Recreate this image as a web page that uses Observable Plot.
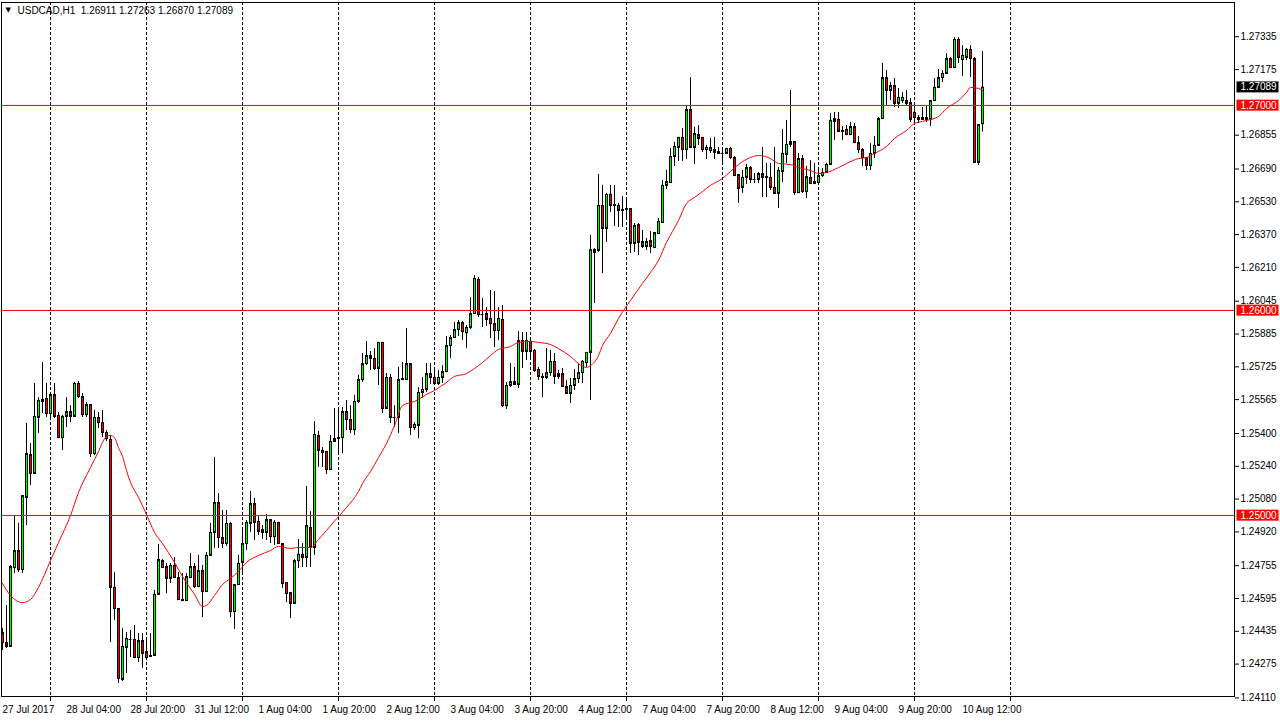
<!DOCTYPE html>
<html>
<head>
<meta charset="utf-8">
<script src="https://cdn.jsdelivr.net/npm/d3@7"></script>
<script src="https://cdn.jsdelivr.net/npm/@observablehq/plot@0.6"></script>
<style>
html,body{margin:0;padding:0;background:#fff;}
#chart{width:1280px;height:721px;overflow:hidden;}
</style>
</head>
<body>
<div id="chart"></div>
<script>
const symbol = "USDCAD,H1";

// hourly bars, index 0 = 27 Jul 12:00
const open = [
1.24429,1.24380,1.24361,1.24746,1.24829,1.24736,1.25088,1.25297,1.25205,1.25478,
1.25556,1.25571,1.25497,1.25590,1.25488,1.25380,1.25483,1.25507,1.25483,1.25644,
1.25580,1.25492,1.25541,1.25302,1.25478,1.25453,1.25405,1.25371,1.24649,1.24546,
1.24200,1.24356,1.24395,1.24395,1.24307,1.24390,1.24336,1.24317,1.24317,1.24615,
1.24780,1.24751,1.24693,1.24756,1.24697,1.24590,1.24585,1.24697,1.24751,1.24653,
1.24731,1.24629,1.24805,1.24917,1.25063,1.24892,1.24863,1.24961,1.24531,1.24663,
1.24771,1.24863,1.24961,1.25058,1.24971,1.24931,1.24917,1.24980,1.24897,1.24966,
1.24863,1.24673,1.24624,1.24571,1.24780,1.24810,1.24795,1.24941,1.24844,1.25390,
1.25317,1.25312,1.25224,1.25361,1.25375,1.25380,1.25507,1.25468,1.25419,1.25556,
1.25663,1.25741,1.25780,1.25766,1.25717,1.25844,1.25522,1.25673,1.25478,1.25478,
1.25663,1.25663,1.25741,1.25429,1.25439,1.25600,1.25615,1.25692,1.25673,1.25644,
1.25673,1.25702,1.25829,1.25868,1.25907,1.25941,1.25892,1.25917,1.25985,1.26151,
1.25980,1.25985,1.25961,1.25936,1.25902,1.25956,1.25536,1.25634,1.25653,1.25639,
1.25853,1.25800,1.25849,1.25805,1.25712,1.25678,1.25673,1.25697,1.25751,1.25678,
1.25692,1.25629,1.25595,1.25634,1.25668,1.25697,1.25746,1.25795,1.26297,1.26293,
1.26512,1.26400,1.26566,1.26517,1.26512,1.26488,1.26493,1.26497,1.26327,1.26419,
1.26336,1.26312,1.26341,1.26307,1.26375,1.26429,1.26610,1.26624,1.26751,1.26795,
1.26844,1.26785,1.26980,1.26795,1.26858,1.26844,1.26785,1.26795,1.26785,1.26775,
1.26766,1.26766,1.26790,1.26746,1.26663,1.26600,1.26649,1.26697,1.26639,1.26639,
1.26668,1.26653,1.26649,1.26600,1.26571,1.26678,1.26761,1.26810,1.26824,1.26575,
1.26741,1.26580,1.26649,1.26619,1.26624,1.26658,1.26673,1.26712,1.26922,1.26932,
1.26878,1.26883,1.26858,1.26897,1.26819,1.26785,1.26746,1.26707,1.26766,1.26805,
1.26936,1.27136,1.27073,1.27097,1.27010,1.27024,1.27024,1.27014,1.26966,1.26932,
1.26941,1.26932,1.26932,1.27024,1.27088,1.27136,1.27156,1.27229,1.27185,1.27322,
1.27224,1.27234,1.27273,1.27229,1.26722,1.26911
];
const high = [
1.24449,1.24561,1.24756,1.24995,1.24961,1.25097,1.25449,1.25351,1.25644,1.25575,
1.25746,1.25644,1.25600,1.25644,1.25502,1.25488,1.25575,1.25536,1.25649,1.25653,
1.25595,1.25551,1.25541,1.25512,1.25502,1.25512,1.25414,1.25390,1.24722,1.24546,
1.24449,1.24429,1.24439,1.24463,1.24424,1.24424,1.24390,1.24424,1.24634,1.24858,
1.24785,1.24766,1.24766,1.24795,1.24722,1.24717,1.24717,1.24815,1.24766,1.24805,
1.24756,1.24819,1.24961,1.25283,1.25107,1.25024,1.25024,1.24966,1.24663,1.24805,
1.24927,1.24975,1.25117,1.25083,1.25000,1.24951,1.25005,1.24980,1.24975,1.24966,
1.24863,1.24673,1.24624,1.24785,1.24883,1.24863,1.25141,1.25019,1.25458,1.25410,
1.25331,1.25312,1.25390,1.25522,1.25517,1.25527,1.25561,1.25536,1.25585,1.25683,
1.25790,1.25849,1.25800,1.25814,1.25844,1.25844,1.25692,1.25688,1.25536,1.25722,
1.25746,1.25912,1.25741,1.25453,1.25624,1.25673,1.25741,1.25741,1.25707,1.25707,
1.25731,1.25873,1.25878,1.25941,1.25951,1.25946,1.25927,1.26063,1.26170,1.26161,
1.26058,1.26014,1.26097,1.26092,1.26014,1.26024,1.25649,1.25741,1.25722,1.25897,
1.25892,1.25892,1.25858,1.25810,1.25722,1.25692,1.25814,1.25805,1.25790,1.25707,
1.25717,1.25658,1.25668,1.25712,1.25741,1.25756,1.25795,1.26366,1.26302,1.26663,
1.26610,1.26571,1.26610,1.26610,1.26522,1.26556,1.26546,1.26497,1.26424,1.26424,
1.26390,1.26351,1.26385,1.26380,1.26449,1.26634,1.26683,1.26790,1.26819,1.26844,
1.26888,1.27000,1.27136,1.26893,1.26902,1.26844,1.26805,1.26839,1.26844,1.26795,
1.26790,1.26790,1.26795,1.26751,1.26663,1.26683,1.26712,1.26702,1.26668,1.26673,
1.26795,1.26717,1.26717,1.26795,1.26697,1.26883,1.26927,1.27073,1.26824,1.26766,
1.26756,1.26702,1.26731,1.26717,1.26683,1.26692,1.26717,1.26961,1.26966,1.26966,
1.26897,1.26902,1.26917,1.26912,1.26849,1.26790,1.26746,1.26814,1.26849,1.26941,
1.27205,1.27170,1.27112,1.27131,1.27083,1.27063,1.27073,1.27034,1.26995,1.26951,
1.26990,1.26995,1.27024,1.27131,1.27175,1.27170,1.27253,1.27234,1.27331,1.27331,
1.27292,1.27278,1.27292,1.27234,1.26907,1.27263
];
const low = [
1.24341,1.24351,1.24361,1.24717,1.24722,1.24717,1.24951,1.25146,1.25205,1.25400,
1.25497,1.25478,1.25478,1.25473,1.25375,1.25317,1.25429,1.25453,1.25483,1.25571,
1.25478,1.25478,1.25283,1.25292,1.25424,1.25380,1.25361,1.24380,1.24488,1.24180,
1.24190,1.24229,1.24307,1.24307,1.24283,1.24254,1.24307,1.24307,1.24312,1.24610,
1.24741,1.24619,1.24668,1.24693,1.24590,1.24580,1.24580,1.24697,1.24644,1.24649,
1.24502,1.24624,1.24800,1.24839,1.24839,1.24839,1.24849,1.24502,1.24444,1.24663,
1.24722,1.24829,1.24917,1.24878,1.24902,1.24883,1.24878,1.24863,1.24853,1.24863,
1.24644,1.24575,1.24497,1.24571,1.24741,1.24746,1.24746,1.24746,1.24805,1.25234,
1.25234,1.25200,1.25224,1.25356,1.25307,1.25302,1.25414,1.25400,1.25390,1.25546,
1.25649,1.25731,1.25707,1.25707,1.25634,1.25497,1.25517,1.25449,1.25429,1.25400,
1.25658,1.25658,1.25390,1.25414,1.25375,1.25571,1.25600,1.25639,1.25634,1.25634,
1.25644,1.25697,1.25766,1.25863,1.25873,1.25853,1.25814,1.25907,1.25980,1.25966,
1.25917,1.25922,1.25863,1.25819,1.25853,1.25527,1.25517,1.25624,1.25634,1.25619,
1.25717,1.25756,1.25771,1.25697,1.25658,1.25575,1.25663,1.25678,1.25639,1.25663,
1.25624,1.25595,1.25546,1.25610,1.25644,1.25644,1.25722,1.25561,1.26034,1.26283,
1.26180,1.26332,1.26478,1.26410,1.26405,1.26405,1.26439,1.26278,1.26283,1.26268,
1.26302,1.26293,1.26278,1.26302,1.26375,1.26424,1.26590,1.26624,1.26702,1.26727,
1.26727,1.26736,1.26795,1.26712,1.26805,1.26771,1.26736,1.26766,1.26736,1.26766,
1.26722,1.26766,1.26736,1.26658,1.26522,1.26571,1.26614,1.26619,1.26619,1.26619,
1.26551,1.26551,1.26585,1.26566,1.26497,1.26624,1.26717,1.26795,1.26561,1.26571,
1.26571,1.26546,1.26619,1.26619,1.26619,1.26649,1.26668,1.26707,1.26829,1.26868,
1.26829,1.26853,1.26853,1.26814,1.26766,1.26702,1.26683,1.26683,1.26741,1.26800,
1.26932,1.27000,1.27024,1.26990,1.26985,1.27010,1.26995,1.26917,1.26917,1.26912,
1.26927,1.26917,1.26897,1.27019,1.27083,1.27112,1.27156,1.27180,1.27180,1.27205,
1.27141,1.27219,1.27136,1.26717,1.26707,1.26870
];
const close = [
1.24380,1.24361,1.24751,1.24829,1.24736,1.25097,1.25302,1.25205,1.25483,1.25561,
1.25566,1.25497,1.25590,1.25483,1.25380,1.25483,1.25507,1.25483,1.25644,1.25580,
1.25492,1.25541,1.25302,1.25478,1.25453,1.25405,1.25375,1.24649,1.24546,1.24205,
1.24361,1.24400,1.24395,1.24307,1.24390,1.24327,1.24307,1.24312,1.24615,1.24785,
1.24746,1.24693,1.24756,1.24697,1.24590,1.24585,1.24702,1.24751,1.24653,1.24731,
1.24629,1.24805,1.24917,1.25063,1.24892,1.24863,1.24961,1.24531,1.24663,1.24766,
1.24863,1.24966,1.25058,1.24966,1.24922,1.24917,1.24980,1.24897,1.24966,1.24863,
1.24668,1.24619,1.24571,1.24780,1.24810,1.24795,1.24951,1.24844,1.25395,1.25317,
1.25307,1.25224,1.25361,1.25375,1.25380,1.25507,1.25468,1.25419,1.25556,1.25663,
1.25741,1.25780,1.25766,1.25717,1.25844,1.25522,1.25673,1.25478,1.25478,1.25663,
1.25668,1.25741,1.25429,1.25444,1.25600,1.25615,1.25692,1.25673,1.25644,1.25673,
1.25702,1.25829,1.25868,1.25907,1.25941,1.25897,1.25917,1.25985,1.26156,1.25980,
1.25980,1.25956,1.25936,1.25902,1.25961,1.25536,1.25634,1.25653,1.25639,1.25853,
1.25800,1.25853,1.25800,1.25707,1.25678,1.25673,1.25697,1.25751,1.25678,1.25692,
1.25629,1.25595,1.25634,1.25668,1.25697,1.25751,1.25795,1.26297,1.26283,1.26512,
1.26400,1.26566,1.26512,1.26512,1.26488,1.26493,1.26497,1.26327,1.26414,1.26332,
1.26312,1.26336,1.26312,1.26380,1.26434,1.26610,1.26629,1.26751,1.26800,1.26844,
1.26785,1.26980,1.26795,1.26863,1.26839,1.26785,1.26795,1.26780,1.26771,1.26766,
1.26766,1.26790,1.26746,1.26658,1.26595,1.26649,1.26697,1.26639,1.26639,1.26668,
1.26649,1.26649,1.26600,1.26571,1.26683,1.26766,1.26810,1.26824,1.26575,1.26741,
1.26580,1.26653,1.26619,1.26629,1.26658,1.26673,1.26712,1.26927,1.26936,1.26873,
1.26873,1.26858,1.26897,1.26819,1.26785,1.26746,1.26707,1.26766,1.26805,1.26936,
1.27136,1.27073,1.27097,1.27010,1.27039,1.27039,1.27010,1.26932,1.26941,1.26941,
1.26932,1.26941,1.27024,1.27088,1.27136,1.27156,1.27229,1.27185,1.27322,1.27234,
1.27244,1.27273,1.27229,1.26722,1.26907,1.27089
];

// moving average (red line), read at these bar indices
const maBar = [0,2,5,7,9,12,14,17,19,22,24,25,26,27,28,29,30,31,32,34,36,38,40,43,45,48,50,51,53,55,57,59,61,64,67,69,72,74,77,79,81,84,86,89,90,92,94,96,98,100,103,106,108,111,113,116,118,120,122,124,127,129,132,134,137,139,142,144,146,147,149,150,152,154,157,160,162,164,166,169,171,173,175,177,180,182,184,187,189,192,194,197,199,202,204,206,209,211,214,216,218,221,223,226,228,230,231,234,236,239,241,242,244,245];
const maValue = [1.24668,1.24610,1.24575,1.24590,1.24649,1.24780,1.24868,1.25000,1.25112,1.25234,1.25312,1.25356,1.25385,1.25390,1.25380,1.25331,1.25288,1.25219,1.25161,1.25088,1.25005,1.24917,1.24863,1.24771,1.24702,1.24615,1.24556,1.24561,1.24610,1.24663,1.24693,1.24727,1.24771,1.24805,1.24829,1.24849,1.24839,1.24844,1.24844,1.24883,1.24927,1.24995,1.25039,1.25117,1.25156,1.25214,1.25283,1.25351,1.25439,1.25536,1.25556,1.25590,1.25610,1.25649,1.25678,1.25692,1.25717,1.25746,1.25780,1.25810,1.25824,1.25844,1.25849,1.25844,1.25834,1.25814,1.25775,1.25741,1.25722,1.25731,1.25780,1.25829,1.25888,1.25961,1.26049,1.26132,1.26185,1.26244,1.26332,1.26439,1.26522,1.26551,1.26580,1.26610,1.26644,1.26678,1.26712,1.26746,1.26756,1.26741,1.26717,1.26712,1.26697,1.26683,1.26668,1.26673,1.26697,1.26717,1.26741,1.26746,1.26766,1.26800,1.26839,1.26878,1.26912,1.26922,1.26927,1.26946,1.26985,1.27024,1.27063,1.27088,1.27083,1.27073];

const levels = [1.27, 1.26, 1.25];
const yTicks = [1.27335,1.27175,1.26855,1.26690,1.26530,1.26370,1.26210,1.26045,1.25885,1.25725,1.25565,1.25400,1.25240,1.25080,1.24920,1.24755,1.24595,1.24435,1.24275,1.24110];
const xLabelBars = [0,16,32,48,64,80,96,112,128,144,160,176,192,208,224,240];
const xLabels = ["27 Jul 2017","28 Jul 04:00","28 Jul 20:00","31 Jul 12:00","1 Aug 04:00","1 Aug 20:00","2 Aug 12:00","3 Aug 04:00","3 Aug 20:00","4 Aug 12:00","7 Aug 04:00","7 Aug 20:00","8 Aug 12:00","9 Aug 04:00","9 Aug 20:00","10 Aug 12:00"];
const daySeparators = [12,36,60,84,108,132,156,180,204,228,252];

const bars = open.map((o, i) => ({i, open: o, high: high[i], low: low[i], close: close[i]}));
const ma = maBar.map((b, k) => ({i: b, v: maValue[k]}));
const last = bars[bars.length - 1];
const fmt = d3.format(".5f");
const title = `${symbol}\u00a0\u00a0${fmt(last.open)} ${fmt(last.high)} ${fmt(last.low)} ${fmt(last.close)}`;

// sentinel text colours used to find the price-box labels afterwards
const RED_BOX_TEXT = "#fffffe", BLACK_BOX_TEXT = "#fffffd";

const chart = Plot.plot({
  width: 1280, height: 721,
  marginLeft: 1, marginRight: 46, marginTop: 2, marginBottom: 25,
  x: {type: "linear", domain: [-0.25, 308], label: null},
  y: {type: "linear", domain: [1.241169, 1.275022], label: null},
  style: {fontFamily: "'Liberation Sans', Arial, sans-serif", fontSize: "10px", background: "#fff", color: "#000", overflow: "visible"},
  marks: [
    Plot.ruleX(daySeparators, {x: d => d, stroke: "#000", strokeDasharray: "3,2"}),
    Plot.ruleX(bars, {x: "i", y1: "low", y2: "high", stroke: "#000"}),
    Plot.rect(bars.filter(d => d.open !== d.close), {
      x1: d => d.i - 0.25, x2: d => d.i + 0.25, y1: "open", y2: "close", dx: 0.5, dy: 0.5,
      fill: d => d.close > d.open ? "#00ff00" : "#ff0000", stroke: "#000"
    }),
    Plot.ruleY(bars.filter(d => d.open === d.close), {y: "open", x1: d => d.i - 0.375, x2: d => d.i + 0.375, stroke: "#000"}),
    Plot.ruleY(levels, {stroke: "#ff0000"}),
    Plot.line(ma, {x: "i", y: "v", stroke: "#ff0000", strokeWidth: 1, curve: "monotone-x"}),
    Plot.frame({stroke: "#000"}),
    Plot.axisY(yTicks, {anchor: "right", tickSize: 4, tickPadding: 2, tickFormat: fmt, label: null}),
    Plot.axisX(daySeparators, {anchor: "bottom", tickSize: 5, tickFormat: () => "", label: null}),
    Plot.axisX(xLabelBars, {anchor: "bottom", tickSize: 0, tickPadding: 9, textAnchor: "start",
      tickFormat: d => xLabels[xLabelBars.indexOf(d)], label: null}),
    Plot.text(levels, {y: d => d, text: d => fmt(d), frameAnchor: "right", dx: 6, textAnchor: "start", fill: RED_BOX_TEXT}),
    Plot.text([last], {y: "close", text: d => fmt(d.close), frameAnchor: "right", dx: 6, textAnchor: "start", fill: BLACK_BOX_TEXT}),
    Plot.text([title], {frameAnchor: "top-left", dx: 16, dy: 4, textAnchor: "start", lineAnchor: "top", text: d => d, fontSize: 10}),
    Plot.text(["\u25BC"], {frameAnchor: "top-left", dx: 4, dy: 5, textAnchor: "start", lineAnchor: "top", text: d => d, fontSize: 7, fontFamily: "DejaVu Sans"})
  ]
});

document.getElementById("chart").appendChild(chart);

const ns = "http://www.w3.org/2000/svg";
const boxColour = {"rgb(255, 255, 254)": "#ff0000", "rgb(255, 255, 253)": "#000000"};
chart.querySelectorAll("text").forEach(t => {
  const col = boxColour[getComputedStyle(t).fill];
  if (!col) return;
  const b = t.getBBox();
  const r = document.createElementNS(ns, "rect");
  r.setAttribute("x", b.x - 4);
  r.setAttribute("y", b.y + b.height / 2 - 5.5);
  r.setAttribute("width", 42);
  r.setAttribute("height", 11);
  r.setAttribute("fill", col);
  const tr = t.getAttribute("transform");
  if (tr) r.setAttribute("transform", tr);
  t.parentNode.insertBefore(r, t);
});
</script>
</body>
</html>
